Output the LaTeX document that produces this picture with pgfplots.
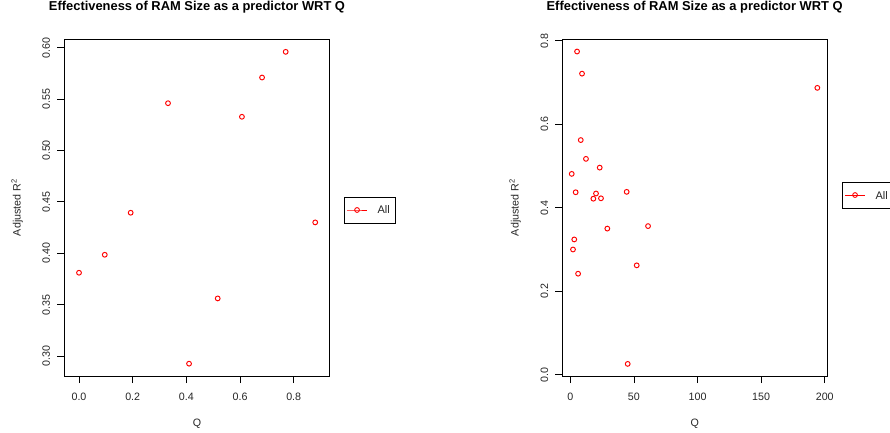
\documentclass[border=0pt]{standalone}
\usepackage{fontspec}
\setmainfont{Liberation Sans}
\usepackage{pgfplots}
\pgfplotsset{compat=1.18}
\pgfplotstableread{
q r
0.000 0.381
0.096 0.3985
0.1925 0.4394
0.3316 0.546
0.410 0.2925
0.5167 0.356
0.607 0.5328
0.682 0.571
0.770 0.596
0.880 0.430
}\tableA
\pgfplotstableread{
q r
5.3 0.774
9.2 0.721
194.2 0.687
8.2 0.562
12.3 0.517
1.1 0.481
23.1 0.496
4.2 0.437
20.2 0.434
18.1 0.4216
24.1 0.4225
44.3 0.438
29.1 0.350
61.1 0.356
3.1 0.324
2.1 0.300
52.2 0.262
6.1 0.242
45.1 0.026
}\tableB
\pgfplotsset{
  rstyle/.style={
    scale only axis,
    axis line style={line width=0.8bp, black},
    tick align=outside,
    xtick pos=bottom, ytick pos=left,
    major tick length=7bp,
    every tick/.style={black, line width=0.8bp},
    tick label style={font=\fontsize{10.7bp}{12bp}\selectfont, text=black!85},
    xticklabel style={anchor=base},
    yticklabel style={rotate=90, anchor=base},
    xticklabel shift=17.4bp,
    yticklabel shift=7.3bp,
    title style={font=\bfseries\fontsize{12.9bp}{14bp}\selectfont, at={(axis description cs:0.5,1.0662)}, anchor=base},
    xlabel style={font=\fontsize{10.7bp}{12bp}\selectfont, text=black!85, at={(axis description cs:0.5,-0.1513)}, anchor=base},
    ylabel style={font=\fontsize{10.7bp}{12bp}\selectfont, text=black!85, at={(axis description cs:-0.165,0.5)}, anchor=base, rotate=0},
    legend style={draw=black, line width=0.8bp, inner xsep=2.5bp, inner ysep=9bp,
      font=\fontsize{11bp}{12bp}\selectfont, text=black!85,
      nodes={inner xsep=3bp, inner ysep=0bp, text height=8bp, text depth=0bp},
      /tikz/every odd column/.style={column sep=7bp}},
    legend image code/.code={\draw[red, line width=0.9bp, sharp plot, mark=o, mark size=2.4bp, mark repeat=2, mark phase=2] plot coordinates {(0bp,0bp) (10bp,0bp) (20bp,0bp)};},
  }
}
\begin{document}
\begin{tikzpicture}[x=1bp,y=1bp]
\useasboundingbox (0,0) rectangle (890,432);
\begin{axis}[rstyle,
  at={(64.3bp,56bp)}, anchor=south west,
  width=265.4bp, height=337bp,
  xmin=-0.0548, xmax=0.934, ymin=0.2805, ymax=0.6085,
  xtick={0,0.2,0.4,0.6,0.8}, xticklabels={0.0,0.2,0.4,0.6,0.8},
  ytick={0.30,0.35,0.40,0.45,0.50,0.55,0.60},
  yticklabels={0.30,0.35,0.40,0.45,0.50,0.55,0.60},
  title={Effectiveness of RAM Size as a predictor WRT Q},
  xlabel={Q}, ylabel={Adjusted R\textsuperscript{2}},
  legend style={at={(1,0.4926)}, anchor=west, xshift=14bp},
]
\addplot[only marks, mark=o, mark size=2.4bp, red, line width=0.95bp] table[x=q,y=r] {\tableA};
\addlegendentry{All}
\end{axis}
\begin{axis}[rstyle,
  at={(562.3bp,56bp)}, anchor=south west,
  width=264.7bp, height=337bp,
  xmin=-6.3, xmax=201.8, ymin=-0.003, ymax=0.804,
  xtick={0,50,100,150,200}, xticklabels={0,50,100,150,200},
  ytick={0,0.2,0.4,0.6,0.8}, yticklabels={0.0,0.2,0.4,0.6,0.8},
  title={Effectiveness of RAM Size as a predictor WRT Q},
  xlabel={Q}, ylabel={Adjusted R\textsuperscript{2}},
  legend style={at={(1,0.537)}, anchor=west, xshift=14.7bp},
]
\addplot[only marks, mark=o, mark size=2.4bp, red, line width=0.95bp] table[x=q,y=r] {\tableB};
\addlegendentry{All}
\end{axis}
\end{tikzpicture}
\end{document}
